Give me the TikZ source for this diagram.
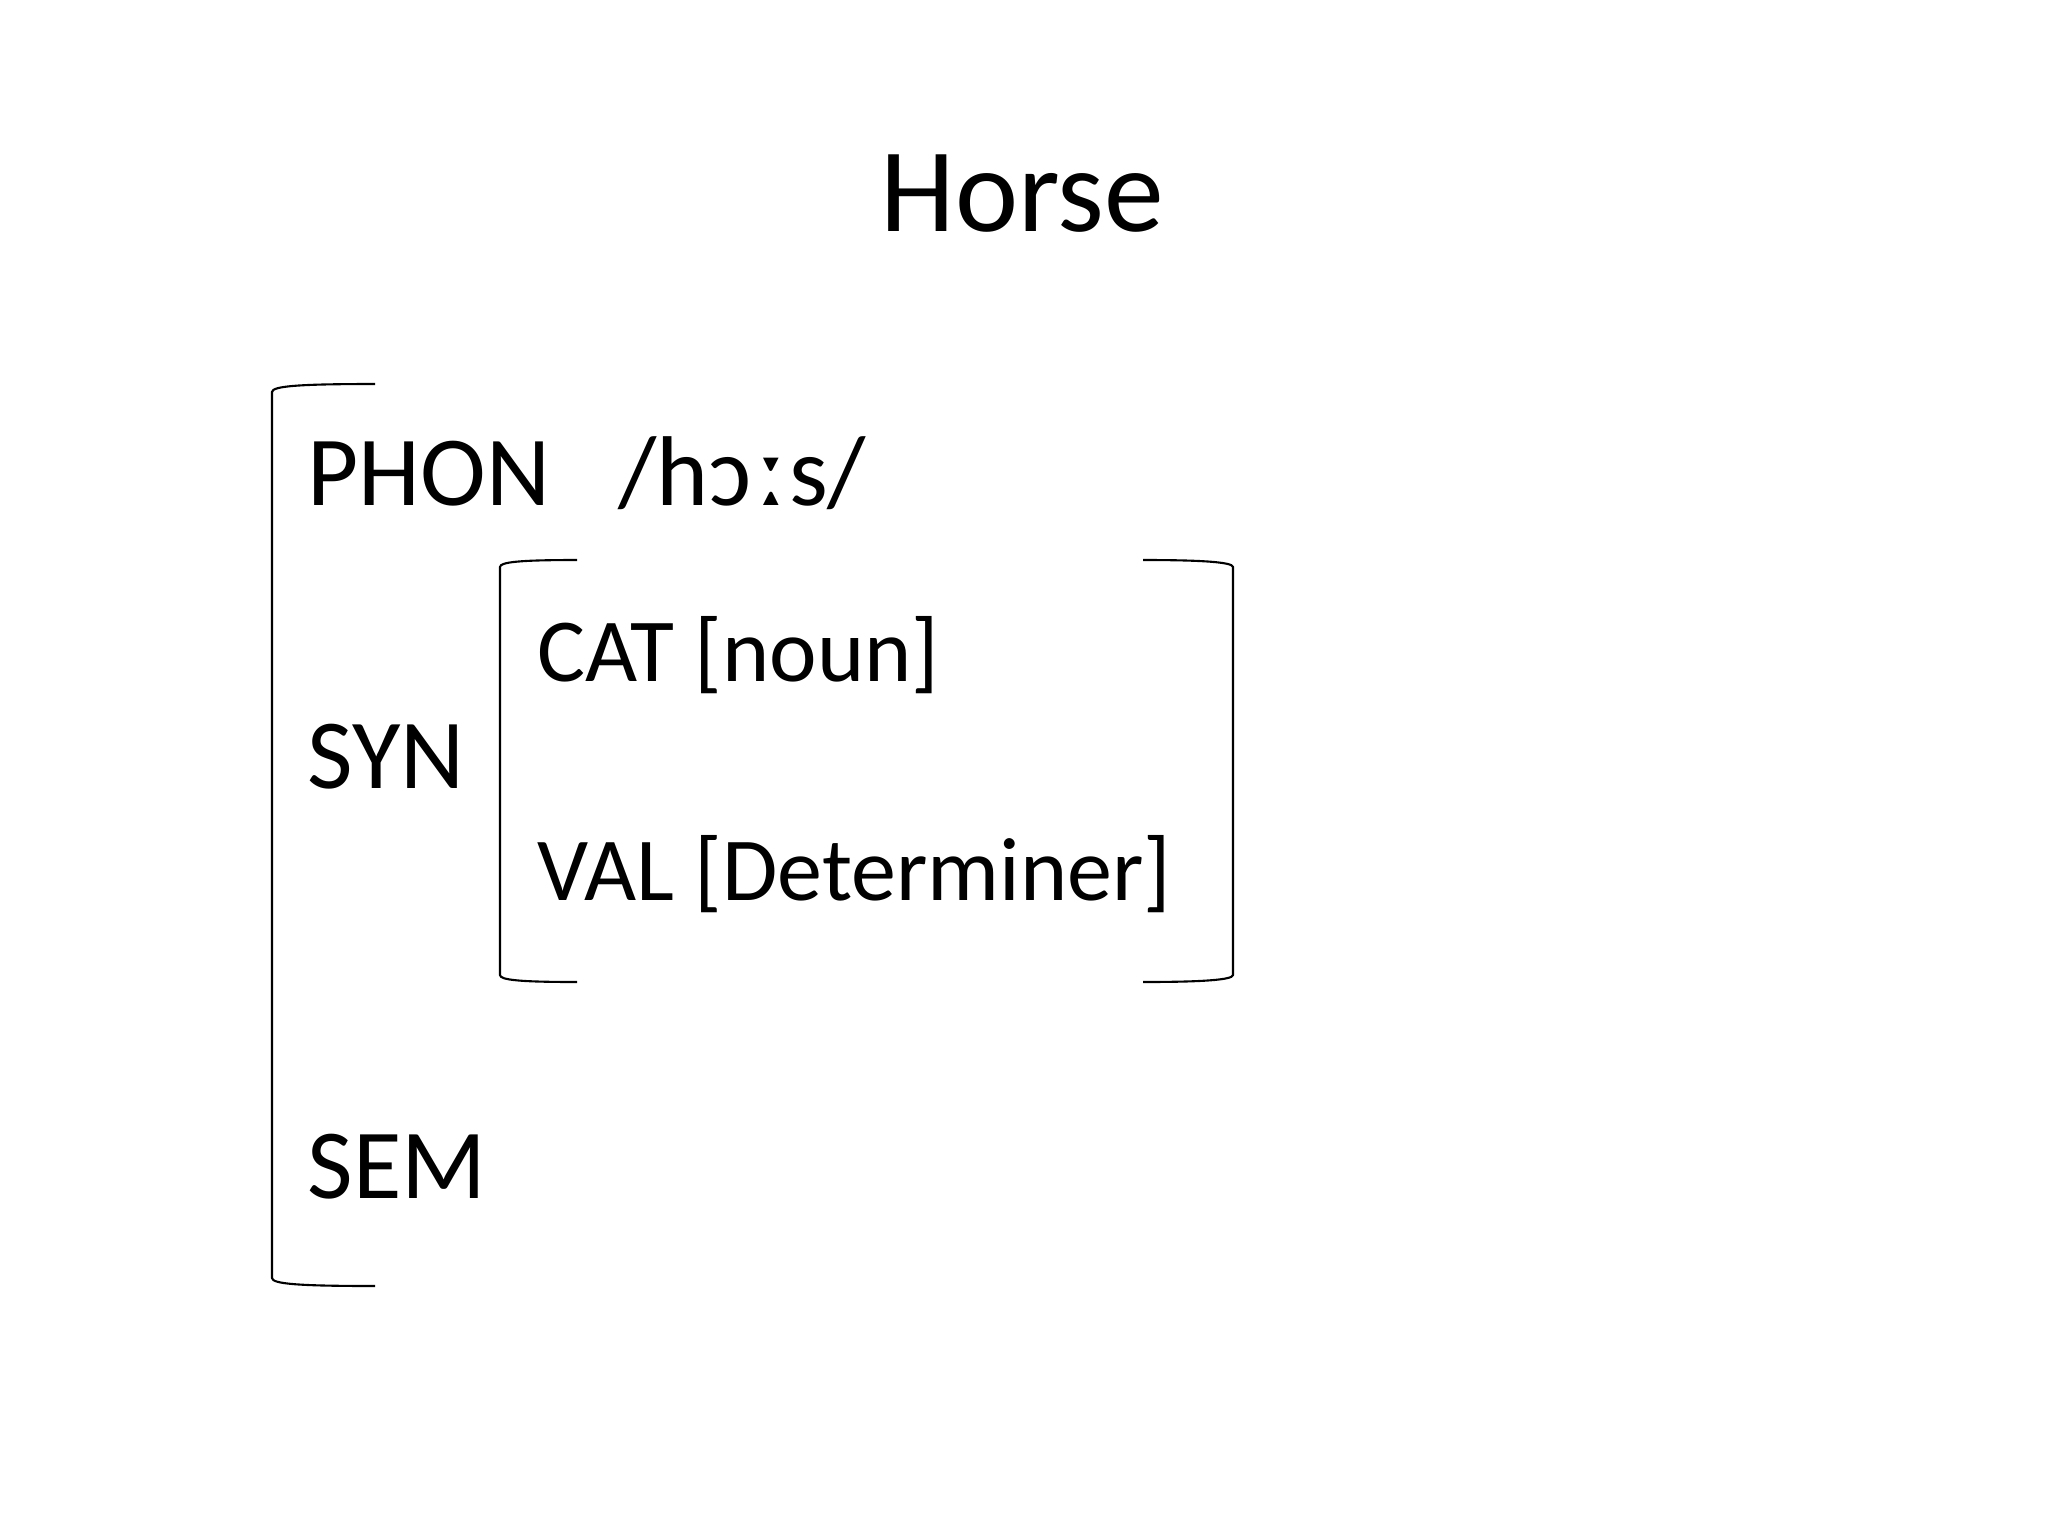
\documentclass[tikz,border=0pt]{standalone}
\usepackage{fontspec}
\setmainfont{Carlito}
\usetikzlibrary{positioning}
\tikzset{
  title/.style={anchor=base west,inner sep=0pt,font=\fontsize{34}{40}\selectfont},
  feat/.style={anchor=base west,inner sep=0pt,font=\fontsize{28.2}{34}\selectfont},
  subfeat/.style={anchor=base west,inner sep=0pt,font=\fontsize{25.6}{30}\selectfont},
  brack/.style={line width=0.6pt}
}

\begin{document}
\begin{tikzpicture}[x=0.01cm,y=-0.01cm]
\useasboundingbox (0,0) rectangle (2048,1536);

% --- Title ---
\node[title] (horse) at (880,231) {Horse};

% --- outer features ---
\node[feat] (phon) at (307,505) {PHON};
\node[feat] (phonval) at (618,505) {/hɔ\kern2pt ː\kern1pt s/};
\node[feat] (syn) at (307,788) {SYN};
\node[feat] (sem) at (307,1198) {SEM};

% --- SYN value ---
\node[subfeat] (cat) at (537,681) {CAT [noun]};
\node[subfeat] (val) at (537,900) {VAL [Determiner]};

% outer bracket
\draw[brack] (375,384) .. controls (300,384) and (272,386) .. (272,392)
  -- (272,1278) .. controls (272,1284) and (300,1286) .. (375,1286);

% inner brackets
\draw[brack] (577,560) .. controls (520,560) and (500,562) .. (500,567)
  -- (500,975) .. controls (500,980) and (520,982) .. (577,982);
\draw[brack] (1143,560) .. controls (1200,560) and (1233,562) .. (1233,567)
  -- (1233,975) .. controls (1233,980) and (1200,982) .. (1143,982);

\end{tikzpicture}
\end{document}
